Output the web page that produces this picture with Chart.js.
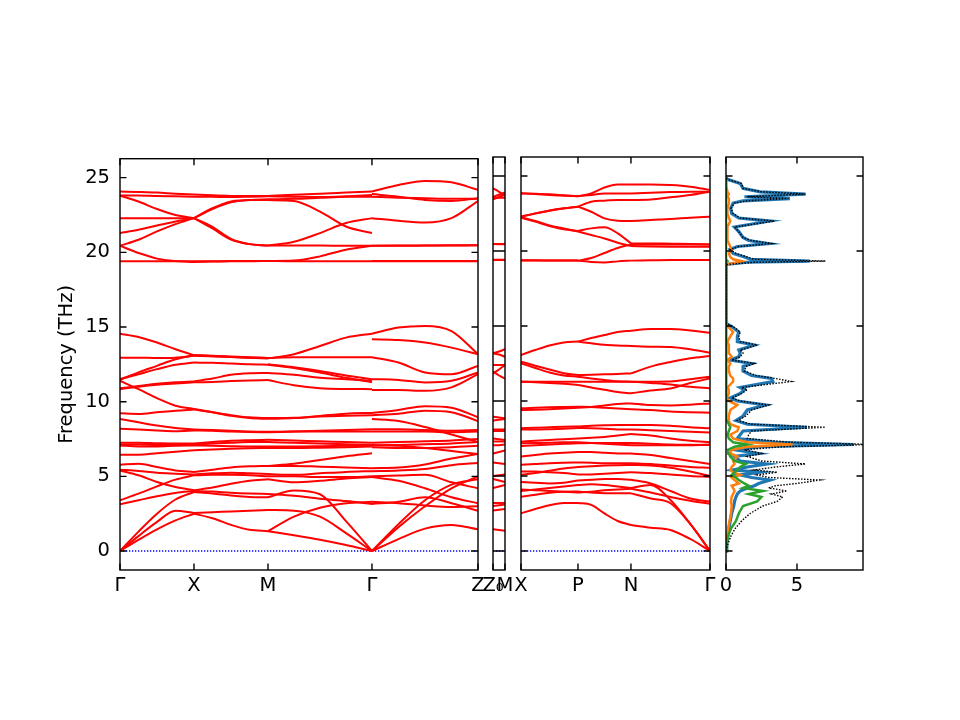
<!DOCTYPE html>
<html><head><meta charset="utf-8">
<script src="https://cdn.jsdelivr.net/npm/chart.js@4.4.1/dist/chart.umd.min.js"></script>
<style>
html,body{margin:0;padding:0;background:#fff;}
body{width:960px;height:720px;position:relative;overflow:hidden;}
canvas{position:absolute;}
</style></head><body>
<canvas id="c1" width="498" height="473" style="left:0px;top:137px;width:498px;height:473px"></canvas>
<canvas id="c2" width="52" height="473" style="left:473px;top:137px;width:52px;height:473px"></canvas>
<canvas id="c3" width="229" height="473" style="left:501px;top:137px;width:229px;height:473px"></canvas>
<canvas id="c4" width="177" height="473" style="left:706px;top:137px;width:177px;height:473px"></canvas>
<script>
// ---------- axis / path data ----------
const yTicks = [0, 5, 10, 15, 20, 25];
const panel1Pos = [0, 1, 2, 3.405, 4.838];
const panel1Labels = ['Γ', 'X', 'M', 'Γ', 'Z'];
const panel2Pos = [0, 0.162];
const panel2Labels = ['Z₀', 'M'];
const panel3Pos = [0, 0.77, 1.486, 2.554];
const panel3Labels = ['X', 'P', 'N', 'Γ'];
const dosTickPos = [0, 5];
const dosTickLabels = ['0', '5'];
const samplePos = [0, 0.25, 0.5, 0.75, 1];
const samplePos3 = [0, 0.5, 1];

// ---------- band frequencies (THz) at samplePos along each segment ----------
const bandsGX = [
 [0, 1.0, 1.95, 2.7, 2.55],
 [0, 0.75, 1.45, 2.05, 2.5],
 [0, 1.3, 2.5, 3.45, 3.95],
 [3.13, 3.4, 3.67, 3.89, 4.02],
 [3.4, 3.84, 4.33, 4.78, 5.07],
 [5.4, 5.07, 4.62, 4.29, 4.07],
 [5.45, 5.36, 5.24, 5.18, 5.13],
 [5.78, 5.84, 5.62, 5.4, 5.29],
 [6.45, 6.45, 6.55, 6.65, 6.75],
 [7.07, 7.0, 7.0, 7.05, 7.07],
 [7.13, 7.13, 7.1, 7.1, 7.13],
 [7.25, 7.25, 7.22, 7.2, 7.2],
 [8.18, 8.13, 8.07, 8.02, 8.07],
 [8.84, 8.62, 8.4, 8.24, 8.13],
 [9.22, 9.18, 9.29, 9.4, 9.47],
 [11.4, 10.84, 10.24, 9.73, 9.51],
 [10.84, 11.0, 11.13, 11.22, 11.3],
 [10.9, 11.05, 11.2, 11.3, 11.36],
 [11.47, 11.96, 12.4, 12.84, 13.11],
 [11.51, 11.84, 12.18, 12.47, 12.62],
 [12.95, 12.95, 12.92, 12.95, 13.07],
 [14.55, 14.33, 13.96, 13.51, 13.11],
 [19.4, 19.4, 19.4, 19.4, 19.4],
 [20.44, 19.96, 19.58, 19.42, 19.36],
 [20.44, 20.84, 21.4, 21.89, 22.29],
 [21.29, 21.51, 21.8, 22.07, 22.29],
 [22.29, 22.29, 22.29, 22.29, 22.29],
 [23.8, 23.4, 22.9, 22.5, 22.29],
 [23.8, 23.8, 23.77, 23.75, 23.73],
 [24.07, 24.04, 24.0, 23.93, 23.88]
];
const bandsXM = [
 [2.55, 2.6, 2.65, 2.7, 2.75],
 [2.5, 2.2, 1.75, 1.42, 1.33],
 [3.95, 3.85, 3.72, 3.62, 3.6],
 [4.02, 3.98, 3.9, 3.85, 3.82],
 [5.07, 5.1, 5.1, 5.07, 5.0],
 [4.07, 4.25, 4.5, 4.7, 4.8],
 [5.13, 5.2, 5.25, 5.2, 5.15],
 [5.29, 5.45, 5.6, 5.67, 5.7],
 [6.75, 6.8, 6.85, 6.88, 6.9],
 [7.07, 7.05, 7.02, 7.0, 7.0],
 [7.13, 7.2, 7.25, 7.3, 7.3],
 [7.2, 7.3, 7.38, 7.42, 7.45],
 [8.07, 8.05, 8.0, 7.97, 7.95],
 [8.13, 8.1, 8.05, 8.0, 7.98],
 [9.47, 9.3, 9.05, 8.9, 8.85],
 [9.51, 9.3, 9.1, 8.95, 8.9],
 [11.3, 11.32, 11.38, 11.42, 11.45],
 [11.36, 11.55, 11.8, 11.9, 11.92],
 [13.11, 13.05, 13.0, 12.95, 12.93],
 [12.62, 12.6, 12.55, 12.5, 12.48],
 [13.07, 13.05, 13.0, 12.95, 12.9],
 [13.11, 13.08, 13.02, 12.97, 12.93],
 [19.4, 19.4, 19.42, 19.42, 19.42],
 [19.36, 19.38, 19.4, 19.4, 19.42],
 [22.29, 22.95, 23.4, 23.5, 23.5],
 [22.29, 22.9, 23.35, 23.5, 23.55],
 [22.29, 21.7, 20.9, 20.55, 20.45],
 [22.29, 21.6, 20.85, 20.55, 20.45],
 [23.73, 23.72, 23.7, 23.72, 23.75],
 [23.88, 23.82, 23.78, 23.77, 23.78]
];
const bandsMG = [
 [1.33, 1.05, 0.75, 0.4, 0],
 [2.75, 2.7, 2.3, 1.2, 0],
 [3.6, 4.05, 3.8, 2.0, 0],
 [1.33, 2.3, 2.9, 3.2, 3.3],
 [3.82, 3.7, 3.5, 3.35, 3.15],
 [4.8, 4.6, 4.7, 4.85, 4.95],
 [5.0, 5.0, 4.95, 4.95, 5.0],
 [5.15, 5.1, 5.2, 5.3, 5.35],
 [5.7, 5.7, 5.65, 5.6, 5.55],
 [5.7, 5.85, 6.1, 6.35, 6.55],
 [6.9, 6.9, 6.92, 6.95, 7.0],
 [7.0, 7.0, 7.02, 7.05, 7.07],
 [7.3, 7.25, 7.2, 7.15, 7.1],
 [7.45, 7.4, 7.35, 7.3, 7.25],
 [7.95, 8.0, 8.05, 8.1, 8.15],
 [7.98, 8.0, 8.0, 8.0, 8.0],
 [8.85, 8.9, 9.05, 9.2, 9.25],
 [8.9, 8.92, 9.0, 9.05, 9.1],
 [11.45, 11.1, 10.9, 10.85, 10.84],
 [11.92, 11.8, 11.6, 11.5, 11.4],
 [12.48, 12.25, 11.95, 11.6, 11.3],
 [12.5, 12.3, 12.05, 11.75, 11.5],
 [12.93, 12.97, 12.97, 12.97, 12.98],
 [12.9, 13.18, 13.73, 14.29, 14.55],
 [19.42, 19.4, 19.4, 19.4, 19.4],
 [19.42, 19.45, 19.73, 20.18, 20.44],
 [20.45, 20.45, 20.45, 20.44, 20.44],
 [20.45, 20.71, 21.29, 21.96, 22.29],
 [23.5, 23.43, 22.73, 21.73, 21.29],
 [23.55, 23.58, 23.65, 23.72, 23.73],
 [23.75, 23.72, 23.7, 23.75, 23.84],
 [23.78, 23.85, 23.93, 24.0, 24.07]
];
const bandsGZ = [
 [0, 0.8, 1.5, 1.75, 1.45],
 [0, 1.6, 3.0, 4.2, 5.0],
 [0, 1.8, 3.4, 4.45, 4.8],
 [3.3, 3.2, 3.05, 2.95, 3.0],
 [3.15, 3.3, 3.6, 3.2, 2.7],
 [4.95, 4.7, 4.2, 3.6, 3.2],
 [5.0, 5.05, 5.1, 4.6, 4.2],
 [5.35, 5.4, 5.5, 5.75, 5.9],
 [5.55, 5.6, 5.8, 6.2, 6.5],
 [6.95, 6.9, 6.9, 6.95, 7.05],
 [7.07, 7.1, 7.15, 7.2, 7.3],
 [7.1, 7.05, 6.9, 6.7, 6.5],
 [7.25, 7.3, 7.35, 7.4, 7.5],
 [8.0, 8.0, 8.0, 7.95, 8.0],
 [8.15, 8.15, 8.1, 8.05, 8.1],
 [8.84, 8.7, 8.3, 7.8, 7.3],
 [9.25, 9.45, 9.7, 9.6, 8.96],
 [9.1, 9.2, 9.4, 9.3, 8.7],
 [10.78, 10.78, 10.73, 10.96, 11.84],
 [11.51, 11.46, 11.29, 11.4, 11.96],
 [12.98, 12.62, 11.96, 11.84, 12.4],
 [14.18, 14.13, 13.96, 13.62, 13.18],
 [14.55, 14.96, 15.07, 14.73, 13.18],
 [19.4, 19.4, 19.4, 19.4, 19.4],
 [19.42, 19.42, 19.42, 19.42, 19.42],
 [20.44, 20.45, 20.46, 20.47, 20.47],
 [20.44, 20.44, 20.45, 20.46, 20.47],
 [22.29, 22.11, 22.0, 22.29, 23.44],
 [23.73, 23.66, 23.62, 23.58, 23.58],
 [23.9, 23.73, 23.51, 23.44, 23.62],
 [24.07, 24.51, 24.78, 24.69, 24.18]
];
const bandsZ0M = [
 [1.45, 1.4, 1.35],
 [2.7, 2.75, 2.8],
 [3.0, 3.05, 3.1],
 [3.2, 3.2, 3.2],
 [4.2, 4.3, 4.4],
 [4.8, 4.7, 4.6],
 [5.0, 5.05, 5.1],
 [5.9, 5.85, 5.8],
 [6.5, 6.6, 6.7],
 [7.05, 7.05, 7.1],
 [7.3, 7.3, 7.3],
 [7.5, 7.45, 7.4],
 [8.0, 8.0, 8.0],
 [8.1, 8.1, 8.1],
 [8.96, 8.9, 8.85],
 [8.7, 8.75, 8.8],
 [11.84, 12.1, 12.4],
 [11.96, 11.7, 11.5],
 [12.4, 12.4, 12.4],
 [13.18, 13.1, 12.95],
 [13.18, 13.3, 13.45],
 [19.4, 19.4, 19.4],
 [19.42, 19.42, 19.42],
 [20.47, 20.47, 20.47],
 [20.47, 20.46, 20.45],
 [23.44, 23.6, 23.75],
 [23.58, 23.55, 23.55],
 [23.62, 23.75, 23.9],
 [24.18, 23.95, 23.7]
];
const bandsXP = [
 [2.51, 2.8, 3.05, 3.2, 3.2],
 [3.62, 3.75, 3.88, 3.95, 3.96],
 [4.0, 4.1, 4.2, 4.3, 4.4],
 [4.1, 4.05, 4.0, 3.95, 3.9],
 [4.6, 4.55, 4.5, 4.55, 4.7],
 [5.07, 5.2, 5.35, 5.5, 5.6],
 [5.3, 5.3, 5.25, 5.2, 5.1],
 [5.75, 5.8, 5.85, 5.88, 5.9],
 [6.3, 6.4, 6.5, 6.55, 6.6],
 [7.0, 7.05, 7.1, 7.15, 7.18],
 [7.18, 7.2, 7.22, 7.25, 7.25],
 [7.29, 7.35, 7.4, 7.45, 7.5],
 [8.1, 8.1, 8.12, 8.15, 8.2],
 [8.18, 8.22, 8.25, 8.28, 8.3],
 [9.4, 9.42, 9.45, 9.5, 9.55],
 [9.51, 9.55, 9.58, 9.6, 9.62],
 [11.29, 11.25, 11.2, 11.15, 11.07],
 [11.29, 11.29, 11.29, 11.29, 11.29],
 [12.51, 12.2, 11.9, 11.7, 11.62],
 [12.62, 12.35, 12.1, 11.85, 11.73],
 [13.07, 13.4, 13.7, 13.9, 13.96],
 [19.36, 19.36, 19.36, 19.36, 19.36],
 [19.38, 19.38, 19.37, 19.36, 19.36],
 [22.29, 22.51, 22.69, 22.84, 22.96],
 [22.22, 21.96, 21.67, 21.45, 21.34],
 [22.25, 22.0, 21.7, 21.5, 21.3],
 [22.29, 22.5, 22.7, 22.85, 22.96],
 [23.84, 23.8, 23.73, 23.69, 23.66],
 [23.86, 23.82, 23.78, 23.72, 23.66]
];
const bandsPN = [
 [3.2, 3.07, 2.5, 2.0, 1.73],
 [3.96, 3.9, 3.85, 3.84, 3.84],
 [4.4, 4.45, 4.4, 4.3, 4.2],
 [3.9, 3.95, 4.05, 4.1, 4.15],
 [4.7, 4.75, 4.8, 4.8, 4.75],
 [5.6, 5.65, 5.7, 5.72, 5.73],
 [5.1, 5.1, 5.15, 5.2, 5.25],
 [5.9, 5.88, 5.85, 5.85, 5.85],
 [6.6, 6.6, 6.55, 6.5, 6.5],
 [7.18, 7.2, 7.2, 7.2, 7.2],
 [7.25, 7.2, 7.15, 7.1, 7.05],
 [7.5, 7.55, 7.6, 7.7, 7.8],
 [8.2, 8.18, 8.15, 8.1, 8.1],
 [8.3, 8.35, 8.38, 8.4, 8.4],
 [9.55, 9.6, 9.7, 9.8, 9.84],
 [9.62, 9.6, 9.55, 9.5, 9.45],
 [11.07, 10.9, 10.75, 10.6, 10.51],
 [11.29, 11.29, 11.29, 11.29, 11.29],
 [11.62, 11.5, 11.4, 11.32, 11.29],
 [11.73, 11.75, 11.78, 11.8, 11.84],
 [13.96, 14.2, 14.4, 14.6, 14.69],
 [13.96, 13.85, 13.75, 13.7, 13.67],
 [19.36, 19.53, 19.87, 20.2, 20.44],
 [19.36, 19.27, 19.24, 19.31, 19.36],
 [21.34, 21.51, 21.58, 21.18, 20.51],
 [21.3, 21.07, 20.84, 20.55, 20.33],
 [22.96, 23.29, 23.36, 23.4, 23.4],
 [22.96, 22.62, 22.18, 22.02, 22.0],
 [23.66, 23.73, 23.84, 23.84, 23.84],
 [23.66, 23.84, 24.24, 24.44, 24.44]
];
const bandsNG = [
 [1.73, 1.55, 1.4, 0.8, 0],
 [3.84, 3.5, 3.18, 1.8, 0],
 [4.2, 4.4, 3.4, 1.8, 0],
 [4.15, 3.9, 3.6, 3.35, 3.15],
 [4.75, 4.5, 4.0, 3.5, 3.3],
 [5.73, 5.7, 5.55, 5.3, 5.0],
 [5.25, 5.2, 5.1, 5.0, 4.95],
 [5.85, 5.8, 5.7, 5.6, 5.55],
 [6.5, 6.4, 6.2, 6.0, 5.8],
 [7.2, 7.15, 7.1, 7.08, 7.07],
 [7.05, 7.05, 7.05, 7.05, 7.1],
 [7.8, 7.7, 7.5, 7.35, 7.25],
 [8.1, 8.05, 8.0, 7.95, 7.9],
 [8.4, 8.4, 8.35, 8.25, 8.18],
 [9.84, 9.73, 9.7, 9.75, 9.84],
 [9.45, 9.4, 9.3, 9.25, 9.22],
 [10.51, 10.7, 10.84, 11.2, 11.51],
 [11.29, 11.2, 11.1, 10.95, 10.84],
 [11.29, 11.29, 11.3, 11.45, 11.62],
 [11.84, 12.29, 12.6, 12.85, 13.0],
 [14.69, 14.8, 14.8, 14.7, 14.55],
 [13.67, 13.62, 13.6, 13.45, 13.22],
 [20.44, 20.44, 20.44, 20.44, 20.44],
 [19.36, 19.38, 19.4, 19.4, 19.4],
 [20.51, 20.51, 20.49, 20.47, 20.44],
 [20.33, 20.3, 20.29, 20.29, 20.29],
 [23.4, 23.44, 23.58, 23.73, 23.96],
 [22.0, 22.07, 22.13, 22.22, 22.29],
 [23.84, 23.89, 23.93, 23.96, 23.96],
 [24.44, 24.44, 24.4, 24.29, 24.07]
];

// ---------- DOS ----------
const dosFreq = [
 0, 0.5, 1.0, 1.5, 2.0, 2.5, 3.0, 3.3, 3.6, 3.8,
 4.0, 4.2, 4.35, 4.5, 4.73, 4.9, 5.07, 5.25, 5.4, 5.6,
 5.8, 6.0, 6.3, 6.5, 6.75, 6.95, 7.1, 7.25, 7.5, 7.75,
 8.0, 8.25, 8.45, 8.7, 9.0, 9.4, 9.73, 10.0, 10.2, 10.5,
 10.75, 10.9, 11.3, 11.5, 11.7, 12.0, 12.3, 12.5, 12.73, 12.95,
 13.2, 13.4, 13.73, 13.96, 14.3, 14.6, 14.9, 15.07, 15.2, 19.1,
 19.25, 19.33, 19.45, 19.6, 19.84, 20.1, 20.3, 20.5, 20.7, 20.9,
 21.3, 21.6, 22.0, 22.2, 22.5, 22.84, 23.2, 23.35, 23.5, 23.62,
 23.8, 23.95, 24.18, 24.5, 24.78, 24.9
];
const dosTotal = [
 0, 0.15, 0.35, 0.65, 1.1, 1.7, 2.6, 3.6, 4.0, 3.2,
 4.3, 3.0, 3.5, 5.0, 6.6, 3.0, 2.2, 3.6, 2.0, 3.5,
 5.6, 2.5, 1.5, 2.5, 1.3, 4.0, 10.5, 4.5, 1.5, 1.6,
 1.8, 7.0, 1.8, 0.8, 1.4, 1.8, 3.0, 1.0, 0.4, 1.1,
 1.5, 1.1, 4.6, 3.5, 2.1, 1.3, 1.4, 2.0, 0.4, 1.0,
 1.2, 1.0, 2.2, 1.0, 0.9, 1.0, 0.6, 0.2, 0, 0,
 2.0, 7.0, 2.0, 1.5, 0.7, 0.3, 0.9, 3.2, 1.8, 1.2,
 0.9, 0.6, 3.4, 1.0, 0.5, 0.35, 0.6, 1.5, 4.4, 1.5,
 5.6, 2.5, 1.2, 1.1, 0.1, 0
];
const dosBlue = [
 0, 0.05, 0.12, 0.2, 0.3, 0.4, 0.55, 0.6, 0.7, 0.8,
 1.0, 1.5, 2.0, 2.3, 3.1, 1.8, 1.0, 2.4, 0.5, 1.5,
 2.9, 1.0, 0.6, 2.3, 0.6, 2.5, 9.0, 3.5, 0.8, 1.0,
 1.2, 5.7, 1.5, 0.7, 1.2, 1.5, 2.8, 0.8, 0.3, 1.0,
 1.3, 1.0, 3.3, 3.2, 1.8, 1.2, 1.2, 1.8, 0.3, 0.9,
 1.0, 0.9, 2.0, 0.8, 0.8, 0.9, 0.5, 0.2, 0, 0,
 1.5, 5.9, 1.7, 1.3, 0.5, 0.28, 0.8, 3.0, 1.6, 1.2,
 0.9, 0.6, 3.1, 0.9, 0.4, 0.33, 0.5, 1.2, 4.5, 1.3,
 5.6, 2.4, 1.2, 1.0, 0.1, 0
];
const dosOrange = [
 0, 0.03, 0.08, 0.15, 0.25, 0.35, 0.4, 0.35, 0.4, 0.5,
 0.6, 0.5, 0.4, 0.9, 0.6, 0.4, 1.0, 0.5, 0.3, 0.4,
 0.6, 0.5, 0.8, 0.3, 0.4, 1.5, 4.7, 1.5, 0.5, 0.3,
 0.8, 0.9, 0.3, 0.2, 0.2, 0.3, 0.8, 0.2, 0.05, 0.2,
 0.2, 0.1, 0.5, 0.5, 0.3, 0.2, 0.2, 0.3, 0.1, 0.4,
 0.2, 0.2, 0.2, 0.1, 0.3, 0.5, 0.2, 0.05, 0, 0,
 0.8, 1.1, 0.5, 0.3, 0.2, 0.4, 0.3, 0.2, 0.1, 0.1,
 0.1, 0.1, 0.3, 0.2, 0.1, 0.1, 0.2, 0.2, 0.2, 0.1,
 0.2, 0.1, 0.05, 0.05, 0, 0
];
const dosGreen = [
 0, 0.07, 0.15, 0.35, 0.7, 0.9, 1.2, 2.2, 2.5, 1.6,
 2.6, 1.2, 1.6, 1.3, 0.9, 0.7, 0.4, 0.6, 0.8, 1.0,
 1.4, 0.6, 0.3, 0.2, 0.15, 0.6, 1.5, 0.5, 0.2, 0.1,
 0.2, 0.3, 0.2, 0.05, 0.05, 0.05, 0.05, 0.05, 0, 0,
 0, 0, 0.05, 0.05, 0, 0, 0.05, 0.05, 0, 0,
 0, 0, 0, 0, 0, 0, 0, 0, 0, 0,
 0.05, 0.1, 0, 0, 0, 0, 0, 0, 0, 0,
 0, 0, 0, 0, 0, 0, 0, 0, 0, 0,
 0, 0, 0, 0, 0, 0
];

// ---------- rendering ----------
Chart.defaults.font.family = "'DejaVu Sans', sans-serif";
Chart.defaults.font.size = 19.5;
Chart.defaults.color = '#000';
Chart.defaults.animation = false;

const Y_MIN = -1.27, Y_MAX = 26.27;

const framePlugin = {
  id: 'frame',
  afterDraw(chart, args, opts) {
    const {ctx, chartArea: a, scales} = chart;
    ctx.save();
    ctx.strokeStyle = '#000';
    ctx.lineWidth = 1.4;
    ctx.strokeRect(a.left, a.top, a.right - a.left, a.bottom - a.top);
    const L = 6.5;
    ctx.beginPath();
    yTicks.forEach(v => {
      const y = scales.y.getPixelForValue(v);
      ctx.moveTo(a.left, y); ctx.lineTo(a.left + L, y);
      ctx.moveTo(a.right, y); ctx.lineTo(a.right - L, y);
    });
    (opts.xticks || []).forEach(v => {
      const x = scales.x.getPixelForValue(v);
      ctx.moveTo(x, a.top); ctx.lineTo(x, a.top + L);
      ctx.moveTo(x, a.bottom); ctx.lineTo(x, a.bottom - L);
    });
    ctx.stroke();
    ctx.restore();
  }
};

function yScale(show) {
  const s = {
    type: 'linear', min: Y_MIN, max: Y_MAX, display: show,
    grid: {display: false, drawTicks: false}, border: {display: false},
    ticks: {padding: 10},
    afterBuildTicks: sc => { sc.ticks = yTicks.map(v => ({value: v})); }
  };
  if (show) {
    s.title = {display: true, text: 'Frequency (THz)', padding: {top: 0, bottom: 0}};
    s.afterFit = sc => { sc.width = 65; };
  }
  return s;
}
function xScale(pos, labels) {
  return {
    type: 'linear', min: pos[0], max: pos[pos.length - 1],
    grid: {display: false, drawTicks: false}, border: {display: false},
    ticks: {padding: 4, autoSkip: false, maxRotation: 0, minRotation: 0,
            callback: (v, i) => labels[i]},
    afterBuildTicks: sc => { sc.ticks = pos.map(v => ({value: v})); },
    afterFit: sc => { sc.height = 40; }
  };
}
function segDatasets(bands, x0, x1, fracs) {
  return bands.map(b => ({
    data: b.map((f, i) => ({x: x0 + (x1 - x0) * fracs[i], y: f})),
    borderColor: '#ff0000', borderWidth: 2, pointRadius: 0,
    showLine: true, fill: false, cubicInterpolationMode: 'monotone'
  }));
}
function zeroLine(x0, x1) {
  return {data: [{x: x0, y: 0}, {x: x1, y: 0}], borderColor: '#0000ff',
          borderWidth: 1.4, borderDash: [1.3, 1.7], pointRadius: 0, showLine: true};
}
function makeChart(id, datasets, xs, ys, xticks, padL) {
  return new Chart(document.getElementById(id), {
    type: 'scatter',
    data: {datasets},
    options: {
      responsive: false, animation: false, events: [],
      layout: {padding: {left: padL, right: 20, top: 20, bottom: 0}},
      plugins: {legend: {display: false}, tooltip: {enabled: false}, frame: {xticks}},
      scales: {x: xs, y: ys}
    },
    plugins: [framePlugin]
  });
}

const p1 = panel1Pos;
const ds1 = [].concat(
  segDatasets(bandsGX, p1[0], p1[1], samplePos),
  segDatasets(bandsXM, p1[1], p1[2], samplePos),
  segDatasets(bandsMG, p1[2], p1[3], samplePos),
  segDatasets(bandsGZ, p1[3], p1[4], samplePos),
  [zeroLine(p1[0], p1[4])]
);
makeChart('c1', ds1, xScale(panel1Pos, panel1Labels), yScale(true), panel1Pos, 55);

const ds2 = [].concat(
  segDatasets(bandsZ0M, panel2Pos[0], panel2Pos[1], samplePos3),
  [zeroLine(panel2Pos[0], panel2Pos[1])]
);
makeChart('c2', ds2, xScale(panel2Pos, panel2Labels), yScale(false), panel2Pos, 20);

const p3 = panel3Pos;
const ds3 = [].concat(
  segDatasets(bandsXP, p3[0], p3[1], samplePos),
  segDatasets(bandsPN, p3[1], p3[2], samplePos),
  segDatasets(bandsNG, p3[2], p3[3], samplePos),
  [zeroLine(p3[0], p3[3])]
);
makeChart('c3', ds3, xScale(panel3Pos, panel3Labels), yScale(false), panel3Pos, 20);

function dosSeries(vals, color, width, dash) {
  return {data: dosFreq.map((f, i) => ({x: vals[i], y: f})), borderColor: color,
          borderWidth: width, borderDash: dash || [], pointRadius: 0, showLine: true,
          tension: 0, fill: false};
}
const ds4 = [
  dosSeries(dosTotal, '#000000', 1.4, [1.5, 1.5]),
  dosSeries(dosGreen, '#2ca02c', 2.5),
  dosSeries(dosOrange, '#ff7f0e', 2.5),
  dosSeries(dosBlue, '#1f77b4', 3.2)
];
const xs4 = xScale(dosTickPos, dosTickLabels);
xs4.min = 0; xs4.max = 9.65;
makeChart('c4', ds4, xs4, yScale(false), dosTickPos, 20);
</script>
</body></html>
